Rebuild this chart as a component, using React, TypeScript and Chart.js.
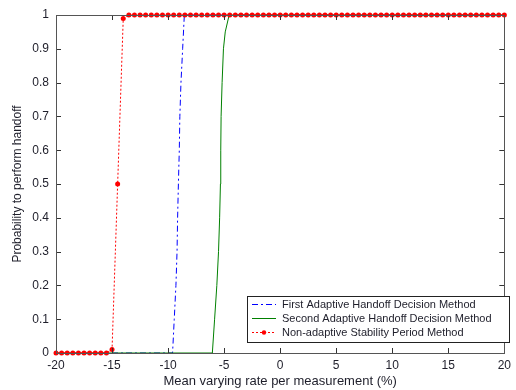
import React, { useEffect, useRef } from "react";
import { Chart, registerables } from "chart.js";

Chart.register(...registerables);

const xTicks = [-20, -15, -10, -5, 0, 5, 10, 15, 20];
const yTicks = [0, 0.1, 0.2, 0.3, 0.4, 0.5, 0.6, 0.7, 0.8, 0.9, 1];

const seriesNames = [
  "First Adaptive Handoff Decision Method",
  "Second Adaptive Handoff Decision Method",
  "Non-adaptive Stability Period Method",
];

const firstX = [-20, -9.6, -9.45, -9.3, -9.2, -9.15, -9.08, -9.0, -8.95, -8.85, -8.7, -8.55, 20];
const firstY = [0, 0, 0.1, 0.2, 0.3, 0.4, 0.5, 0.6, 0.7, 0.8, 0.9, 1, 1];

const secondX = [-20, -6.05, -5.85, -5.65, -5.5, -5.4, -5.33, -5.3, -5.27, -5.18, -5.06, -4.9, -4.55, 20];
const secondY = [0, 0, 0.1, 0.2, 0.3, 0.4, 0.5, 0.6, 0.7, 0.8, 0.9, 0.95, 1, 1];

const thirdX = [
  -20, -19.5, -19, -18.5, -18, -17.5, -17, -16.5, -16, -15.5, -15, -14.5, -14, -13.5, -13, -12.5,
  -12, -11.5, -11, -10.5, -10, -9.5, -9, -8.5, -8, -7.5, -7, -6.5, -6, -5.5, -5, -4.5, -4, -3.5,
  -3, -2.5, -2, -1.5, -1, -0.5, 0, 0.5, 1, 1.5, 2, 2.5, 3, 3.5, 4, 4.5, 5, 5.5, 6, 6.5, 7, 7.5,
  8, 8.5, 9, 9.5, 10, 10.5, 11, 11.5, 12, 12.5, 13, 13.5, 14, 14.5, 15, 15.5, 16, 16.5, 17, 17.5,
  18, 18.5, 19, 19.5, 20,
];
const thirdY = [
  0, 0, 0, 0, 0, 0, 0, 0, 0, 0, 0.01, 0.5, 0.99, 1, 1, 1, 1, 1, 1, 1, 1, 1, 1, 1, 1, 1, 1, 1, 1,
  1, 1, 1, 1, 1, 1, 1, 1, 1, 1, 1, 1, 1, 1, 1, 1, 1, 1, 1, 1, 1, 1, 1, 1, 1, 1, 1, 1, 1, 1, 1, 1,
  1, 1, 1, 1, 1, 1, 1, 1, 1, 1, 1, 1, 1, 1, 1, 1, 1, 1, 1, 1,
];

const FONT = "'Liberation Sans', Arial, sans-serif";
const TEXT = "#1e1e2a";

const toPts = (xs: number[], ys: number[]) => xs.map((x, i) => ({ x, y: ys[i] }));

const framePlugin = {
  id: "frame",
  afterDatasetsDraw(chart: any) {
    const { ctx, chartArea: a, scales } = chart;
    ctx.save();
    ctx.strokeStyle = "#333";
    ctx.lineWidth = 1;
    const L = 5;
    ctx.beginPath();
    xTicks.forEach((v) => {
      const px = Math.round(scales.x.getPixelForValue(v)) + 0.5;
      ctx.moveTo(px, a.bottom);
      ctx.lineTo(px, a.bottom - L);
      ctx.moveTo(px, a.top);
      ctx.lineTo(px, a.top + L);
    });
    yTicks.forEach((v) => {
      const py = Math.round(scales.y.getPixelForValue(v)) + 0.5;
      ctx.moveTo(a.left, py);
      ctx.lineTo(a.left + L, py);
      ctx.moveTo(a.right, py);
      ctx.lineTo(a.right - L, py);
    });
    ctx.stroke();
    ctx.strokeStyle = "#555";
    ctx.strokeRect(Math.round(a.left) + 0.5, Math.round(a.top) + 0.5, Math.round(a.right - a.left), Math.round(a.bottom - a.top));

    // legend box
    const bx = 247, by = 296, bw = 262, bh = 46;
    ctx.fillStyle = "#fff";
    ctx.fillRect(bx, by, bw, bh);
    ctx.strokeStyle = "#222";
    ctx.strokeRect(bx + 0.5, by + 0.5, bw, bh);
    const rows = [304, 318, 332];
    const styles = [
      { color: "#0000ff", dash: [6, 3, 2, 3] },
      { color: "#008000", dash: [] as number[] },
      { color: "#ff0000", dash: [2, 2] },
    ];
    ctx.font = `11px ${FONT}`;
    ctx.textBaseline = "middle";
    rows.forEach((ry, i) => {
      ctx.strokeStyle = styles[i].color;
      ctx.setLineDash(styles[i].dash);
      ctx.beginPath();
      ctx.moveTo(252, ry + 0.5);
      ctx.lineTo(276, ry + 0.5);
      ctx.stroke();
      ctx.setLineDash([]);
      if (i === 2) {
        ctx.fillStyle = "#ff0000";
        ctx.beginPath();
        ctx.arc(264, ry + 0.5, 2.2, 0, Math.PI * 2);
        ctx.fill();
      }
      ctx.fillStyle = TEXT;
      ctx.fillText(seriesNames[i], 282, ry + 1);
    });
    ctx.restore();
  },
};

export default function App() {
  const ref = useRef<HTMLCanvasElement>(null);
  useEffect(() => {
    document.body.style.margin = "0";
    const chart = new Chart(ref.current!, {
      type: "line",
      data: {
        datasets: [
          {
            label: seriesNames[0],
            data: toPts(firstX, firstY),
            borderColor: "#0000ff",
            borderWidth: 1,
            borderDash: [6, 3, 2, 3],
            pointRadius: 0,
            tension: 0,
            order: 3,
          },
          {
            label: seriesNames[1],
            data: toPts(secondX, secondY),
            borderColor: "#008000",
            borderWidth: 1,
            pointRadius: 0,
            tension: 0,
            order: 2,
          },
          {
            label: seriesNames[2],
            data: toPts(thirdX, thirdY),
            borderColor: "#ff0000",
            borderWidth: 1,
            borderDash: [2, 2],
            pointRadius: 2.5,
            pointBackgroundColor: "#ff0000",
            pointBorderColor: "#ff0000",
            pointBorderWidth: 0,
            tension: 0,
            order: 1,
          },
        ],
      },
      options: {
        responsive: false,
        animation: false,
        clip: false as any,
        layout: { padding: { left: 0, top: 15, right: 5, bottom: 0 } },
        plugins: { legend: { display: false }, tooltip: { enabled: false } },
        scales: {
          x: {
            type: "linear",
            min: -20,
            max: 20,
            afterBuildTicks: (s: any) => {
              s.ticks = xTicks.map((v) => ({ value: v }));
            },
            afterFit: (s: any) => {
              s.height = 37;
            },
            grid: { display: false, drawTicks: false },
            border: { display: false },
            ticks: {
              padding: 5,
              color: TEXT,
              font: { family: FONT, size: 12 },
              maxRotation: 0,
              autoSkip: false,
            },
            title: {
              display: true,
              text: "Mean varying rate per measurement (%)",
              color: TEXT,
              font: { family: FONT, size: 13 },
              padding: { top: 0, bottom: 1 },
            },
          },
          y: {
            type: "linear",
            min: 0,
            max: 1,
            afterBuildTicks: (s: any) => {
              s.ticks = yTicks.map((v) => ({ value: v }));
            },
            afterFit: (s: any) => {
              s.width = 56;
            },
            grid: { display: false, drawTicks: false },
            border: { display: false },
            ticks: {
              padding: 7,
              color: TEXT,
              font: { family: FONT, size: 12 },
              autoSkip: false,
              callback: (v: any) => String(Number(v)),
            },
            title: {
              display: true,
              text: "Probability to perform handoff",
              color: TEXT,
              font: { family: FONT, size: 12 },
              padding: { top: 10, bottom: 0 },
            },
          },
        },
      },
      plugins: [framePlugin],
    });
    return () => chart.destroy();
  }, []);
  return (
    <div style={{ width: 516, height: 390, background: "#fff" }}>
      <canvas ref={ref} width={516} height={390} />
    </div>
  );
}
